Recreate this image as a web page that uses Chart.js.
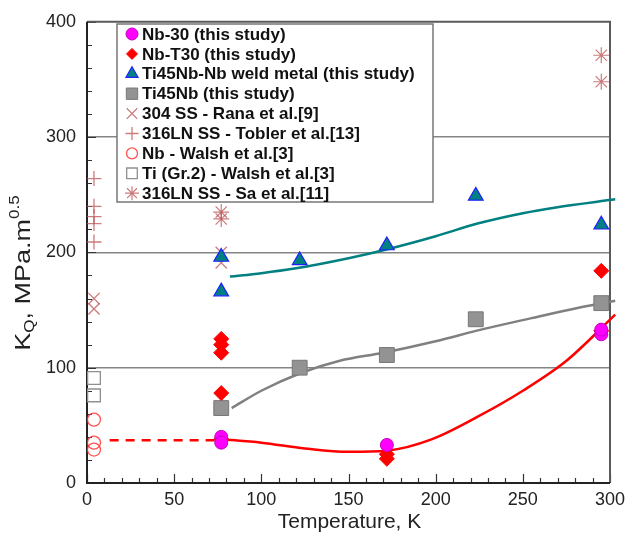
<!DOCTYPE html>
<html>
<head>
<meta charset="utf-8">
<script src="https://cdn.jsdelivr.net/npm/chart.js@4.4.1/dist/chart.umd.min.js"></script>
<style>
  html, body { margin: 0; padding: 0; background: #fff; }
</style>
</head>
<body>
<canvas id="myChart" width="638" height="543"></canvas>
<script>
// measured points (K, MPa.m^0.5)
const nb30X = [77, 77, 172, 295, 295];
const nb30Y = [40, 35, 33, 129, 133];
const nbT30X = [77, 77, 77, 77, 77, 172, 172, 295, 295];
const nbT30Y = [125, 120, 113, 78, 38, 25, 21, 184, 132];
const weldX = [77, 77, 122, 172, 223, 295];
const weldY = [196, 166, 193, 206, 249, 224];
const ti45X = [77, 122, 172, 223, 295];
const ti45Y = [65, 100, 111, 142, 156];
const ranaX = [4, 4, 77, 77];
const ranaY = [160, 151, 200, 191];
const toblerX = [4, 4, 4, 4, 4];
const toblerY = [264, 240, 231, 225, 209];
const walshNbX = [4, 4, 4];
const walshNbY = [55, 35, 29];
const walshTiX = [4, 4];
const walshTiY = [91, 76];
const saX = [77, 77, 295, 295];
const saY = [235, 229, 371, 348];

// trend curves
const redDashX = [13, 77];
const redDashY = [37, 37];
const redFitX = [77, 100, 125, 150, 172, 198, 226, 250, 275, 303];
const redFitY = [38, 35, 30, 27, 28, 38, 59, 80, 106, 146];
const tealFitX = [82, 100, 119, 150, 173, 200, 224, 250, 269, 303];
const tealFitY = [179, 182, 186, 195, 203, 214, 225, 234, 239, 246];
const grayFitX = [83, 100, 122, 145, 170, 200, 226, 255, 282, 303];
const grayFitY = [65, 80, 95, 106, 113, 123, 133, 143, 152, 158];

const xTicks = [0, 50, 100, 150, 200, 250, 300];
const yTicks = [0, 100, 200, 300, 400];

const legendLabels = [
  'Nb-30 (this study)',
  'Nb-T30 (this study)',
  'Ti45Nb-Nb weld metal (this study)',
  'Ti45Nb (this study)',
  '304 SS - Rana et al.[9]',
  '316LN SS - Tobler et al.[13]',
  'Nb - Walsh et al.[3]',
  'Ti (Gr.2) - Walsh et al.[3]',
  '316LN SS - Sa et al.[11]'
];

function pts(xs, ys) {
  return xs.map((v, i) => ({x: v, y: ys[i]}));
}

const refColor = 'rgba(185, 80, 80, 0.75)';

const markers = [
  {data: pts(nb30X, nb30Y), pointStyle: 'circle', pointRadius: 6.5, legendRadius: 6, backgroundColor: '#ff00ff', borderColor: '#c000c0', borderWidth: 1},
  {data: pts(nbT30X, nbT30Y), pointStyle: 'rectRot', pointRadius: 7.5, legendRadius: 5.5, backgroundColor: '#ff0000', borderColor: '#ff0000', borderWidth: 1},
  {data: pts(weldX, weldY), pointStyle: 'triangle', pointRadius: 8.5, legendRadius: 7, backgroundColor: '#008080', borderColor: '#2020ff', borderWidth: 1.2},
  {data: pts(ti45X, ti45Y), pointStyle: 'rect', pointRadius: 10.5, legendRadius: 8, backgroundColor: '#939393', borderColor: '#777', borderWidth: 1},
  {data: pts(ranaX, ranaY), pointStyle: 'crossRot', pointRadius: 8, legendRadius: 7.5, backgroundColor: refColor, borderColor: refColor, borderWidth: 1.3},
  {data: pts(toblerX, toblerY), pointStyle: 'cross', pointRadius: 7.5, legendRadius: 6.5, backgroundColor: refColor, borderColor: refColor, borderWidth: 1.3},
  {data: pts(walshNbX, walshNbY), pointStyle: 'circle', pointRadius: 6.5, legendRadius: 5.5, backgroundColor: 'rgba(0,0,0,0)', borderColor: 'rgba(255,50,50,0.85)', borderWidth: 1.3},
  {data: pts(walshTiX, walshTiY), pointStyle: 'rect', pointRadius: 9, legendRadius: 7.5, backgroundColor: 'rgba(0,0,0,0)', borderColor: '#909090', borderWidth: 1.3},
  {data: pts(saX, saY), pointStyle: 'star', pointRadius: 8, legendRadius: 7, backgroundColor: refColor, borderColor: refColor, borderWidth: 1.2}
];

const datasets = markers.map((m, i) => Object.assign({
  label: legendLabels[i],
  showLine: false,
  pointHoverRadius: m.pointRadius,
  pointBackgroundColor: m.backgroundColor,
  pointBorderColor: m.borderColor,
  pointBorderWidth: m.borderWidth
}, m));

function curve(xs, ys, color, dash) {
  return {
    data: pts(xs, ys),
    showLine: true,
    borderColor: color,
    borderWidth: 2.5,
    borderDash: dash || [],
    pointRadius: 0,
    cubicInterpolationMode: 'monotone',
    clip: false,
    fit: true
  };
}

datasets.push(curve(redDashX, redDashY, '#ff0000', [9, 7]));
datasets.push(curve(redFitX, redFitY, '#ff0000'));
datasets.push(curve(tealFitX, tealFitY, '#008080'));
datasets.push(curve(grayFitX, grayFitY, '#808080'));

const frame = {
  id: 'frame',
  beforeDatasetsDraw(chart) {
    const {ctx, chartArea: a, scales: {x, y}} = chart;
    ctx.save();
    ctx.strokeStyle = '#333';
    ctx.lineWidth = 1.2;
    ctx.beginPath();
    for (let v = 0; v <= 300; v += 10) {
      const px = Math.round(x.getPixelForValue(v)) + 0.5;
      const len = v % 50 === 0 ? 9 : 5;
      ctx.moveTo(px, a.bottom);
      ctx.lineTo(px, a.bottom - len);
    }
    for (let v = 0; v <= 400; v += 20) {
      const py = Math.round(y.getPixelForValue(v)) + 0.5;
      const len = v % 100 === 0 ? 9 : 5;
      ctx.moveTo(a.left, py);
      ctx.lineTo(a.left + len, py);
    }
    ctx.stroke();

    ctx.lineWidth = 2;
    ctx.strokeStyle = '#5a5a5a';
    ctx.beginPath();
    ctx.moveTo(a.left, a.top);
    ctx.lineTo(a.right, a.top);
    ctx.lineTo(a.right, a.bottom);
    ctx.stroke();
    ctx.strokeStyle = '#222';
    ctx.beginPath();
    ctx.moveTo(a.left, a.top);
    ctx.lineTo(a.left, a.bottom);
    ctx.lineTo(a.right, a.bottom);
    ctx.stroke();
    ctx.restore();
  }
};

const legendBox = {
  id: 'legendBox',
  afterDatasetsDraw(chart) {
    const ctx = chart.ctx;
    const bx = 117, by = 24, bw = 316, bh = 178;
    ctx.save();
    ctx.fillStyle = '#fff';
    ctx.fillRect(bx, by, bw, bh);
    ctx.strokeStyle = '#777';
    ctx.lineWidth = 1.5;
    ctx.strokeRect(bx, by, bw, bh);
    ctx.textBaseline = 'middle';
    chart.data.datasets.forEach((ds, i) => {
      if (ds.fit) return;
      const cy = by + 10 + i * 19.9;
      ctx.fillStyle = ds.backgroundColor;
      ctx.strokeStyle = ds.borderColor;
      ctx.lineWidth = ds.borderWidth;
      Chart.helpers.drawPoint(ctx, {pointStyle: ds.pointStyle, rotation: 0, radius: ds.legendRadius, borderWidth: ds.borderWidth}, 132, cy);
      ctx.fillStyle = '#111';
      ctx.font = 'bold 17px "Liberation Sans", Arial, sans-serif';
      // the source text is a little narrower than Arial bold
      const w = ctx.measureText(ds.label).width;
      ctx.save();
      ctx.translate(142, cy + 1);
      ctx.scale(Math.min(1, (ds.label.length * 8.55) / w), 1);
      ctx.fillText(ds.label, 0, 0);
      ctx.restore();
    });
    ctx.restore();
  }
};

const titles = {
  id: 'titles',
  afterDraw(chart) {
    const {ctx, chartArea: a} = chart;
    ctx.save();
    ctx.fillStyle = '#222';
    ctx.font = '21px "Liberation Sans", Arial, sans-serif';
    ctx.textAlign = 'center';
    ctx.textBaseline = 'middle';
    ctx.fillText('Temperature, K', (a.left + a.right) / 2 + 1, 522);

    // y title with subscript / superscript
    ctx.translate(24, 273);
    ctx.rotate(-Math.PI / 2);
    ctx.scale(1, 0.85);
    const big = '27px "Liberation Sans", Arial, sans-serif';
    const small = '17px "Liberation Sans", Arial, sans-serif';
    const parts = [['K', big, 0], ['Q', small, 7], [', MPa.m', big, 0], ['0.5', small, -11]];
    let total = 0;
    parts.forEach(p => { ctx.font = p[1]; total += ctx.measureText(p[0]).width; });
    let cx = -total / 2;
    ctx.textAlign = 'left';
    parts.forEach(p => {
      ctx.font = p[1];
      ctx.fillText(p[0], cx, p[2]);
      cx += ctx.measureText(p[0]).width;
    });
    ctx.restore();
  }
};

const ctx = document.getElementById('myChart');

const myChart = new Chart(ctx, {
  type: 'scatter',
  data: {datasets: datasets},
  options: {
    responsive: false,
    animation: false,
    events: [],
    layout: {padding: {left: 0, right: 28, top: 17, bottom: 0}},
    plugins: {
      legend: {display: false},
      tooltip: {enabled: false}
    },
    scales: {
      x: {
        type: 'linear',
        min: 0,
        max: 300,
        afterBuildTicks: s => { s.ticks = xTicks.map(v => ({value: v})); },
        afterFit: s => { s.height = 60; },
        border: {display: false},
        grid: {display: false, drawTicks: false},
        ticks: {
          padding: 6,
          color: '#222',
          font: {family: '"Liberation Sans", Arial, sans-serif', size: 18}
        }
      },
      y: {
        type: 'linear',
        min: 0,
        max: 400,
        afterBuildTicks: s => { s.ticks = yTicks.map(v => ({value: v})); },
        afterFit: s => { s.width = 87; },
        border: {display: false},
        grid: {
          drawTicks: false,
          lineWidth: 1.5,
          color: c => (c.tick.value === 0 || c.tick.value === 400) ? 'rgba(0,0,0,0)' : '#858585'
        },
        ticks: {
          padding: 11,
          color: '#222',
          font: {family: '"Liberation Sans", Arial, sans-serif', size: 18}
        }
      }
    }
  },
  plugins: [frame, legendBox, titles]
});
</script>
</body>
</html>
